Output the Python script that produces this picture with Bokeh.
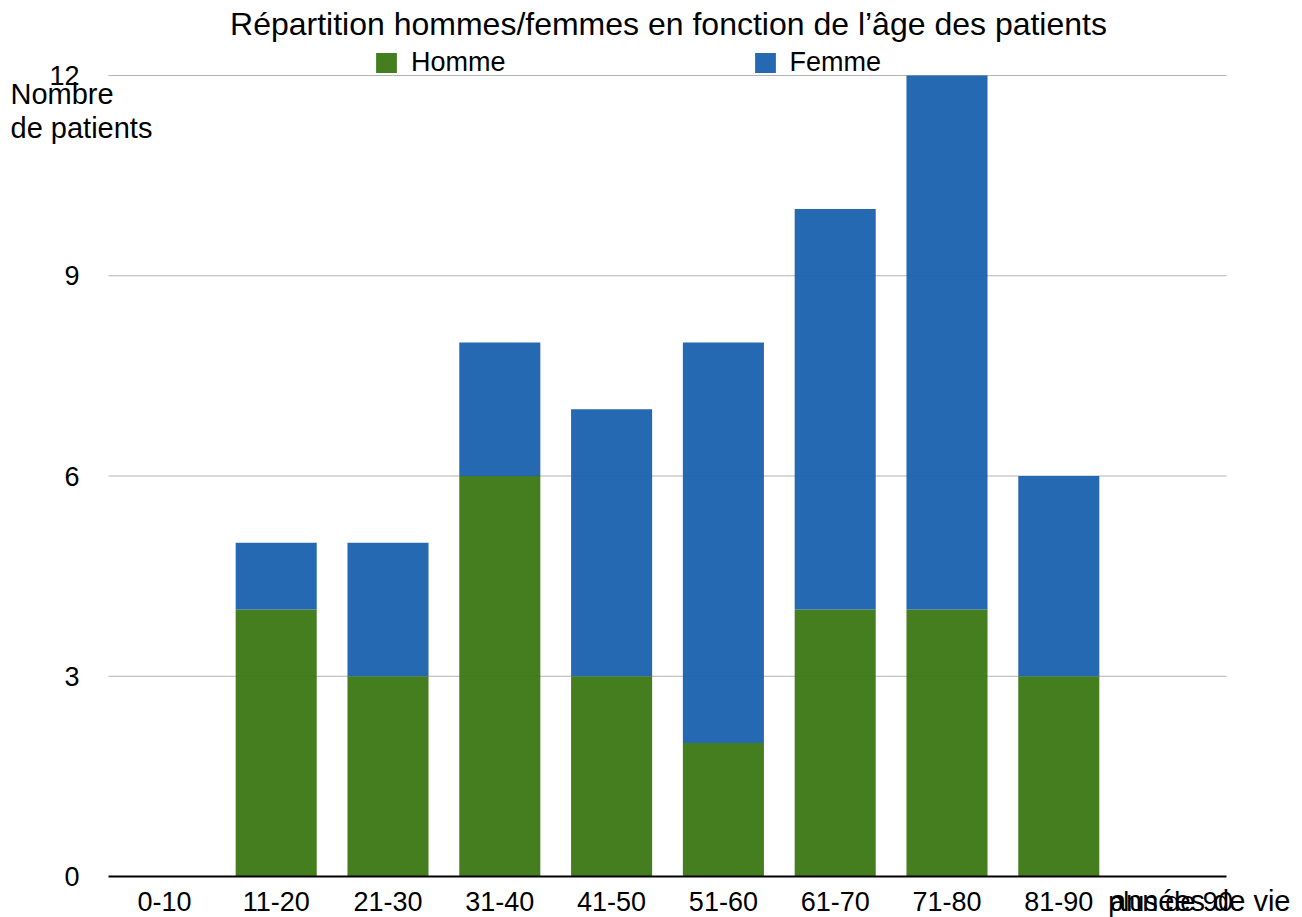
from bokeh.plotting import figure
from bokeh.models import (ColumnDataSource, Range1d, FixedTicker,
                          Label, Legend, LegendItem)
from bokeh.embed import file_html
from bokeh.resources import INLINE

# ---- data ----
categories = ["0-10", "11-20", "21-30", "31-40", "41-50", "51-60",
              "61-70", "71-80", "81-90", "plus de 90"]
homme = [0, 4, 3, 6, 3, 2, 4, 4, 3, 0]
femme = [0, 1, 2, 2, 4, 6, 6, 8, 3, 0]
y_ticks = [0, 3, 6, 9, 12]

title_text = "Répartition hommes/femmes en fonction de l’âge des patients"
y_title = ["Nombre", "de patients"]
x_title = "années de vie"

# ---- layout (pixels of the page) ----
FONT = "Liberation Sans"
GREEN = "#37740E"
BLUE = "#155EAD"
W, H = 1302, 917
PX_L, PX_R, PX_T, PX_B = 108, 1226, 75, 876

n = len(categories)
pos = list(range(n))
ymax = y_ticks[-1]
kx = n / (PX_R - PX_L)
ky = ymax / (PX_B - PX_T)


def dx(px):
    return -0.5 + (px - PX_L) * kx


def dy(py):
    return (PX_B - py) * ky


source = ColumnDataSource(dict(x=pos, Homme=homme, Femme=femme))

p = figure(width=W, height=H, x_range=Range1d(dx(0), dx(W)),
           y_range=Range1d(dy(H), dy(0)), output_backend="svg",
           toolbar_location=None, min_border=0)
p.outline_line_color = None
p.grid.visible = False

# horizontal grid lines inside the plot area
p.segment(x0=-0.5, x1=n - 0.5, y0=y_ticks[1:], y1=y_ticks[1:],
          line_color="#b4b4b4", line_width=1)

rs = p.vbar_stack(["Homme", "Femme"], x="x", width=0.725, source=source,
                  color=[GREEN, BLUE], fill_alpha=0.93, line_color=None)

# axes drawn at fixed data locations
p.yaxis.fixed_location = -0.5
p.yaxis.bounds = (0, ymax)
p.yaxis.ticker = FixedTicker(ticks=y_ticks)
p.yaxis.axis_line_color = None
p.yaxis.major_tick_line_color = None
p.yaxis.minor_tick_line_color = None
p.yaxis.major_label_standoff = 23
p.yaxis.major_label_text_font = FONT
p.yaxis.major_label_text_font_size = "27px"
p.yaxis.major_label_text_color = "black"

p.xaxis.fixed_location = 0
p.xaxis.bounds = (-0.5, n - 0.5)
p.xaxis.ticker = FixedTicker(ticks=pos)
p.xaxis.major_label_overrides = {i: c for i, c in zip(pos, categories)}
p.xaxis.axis_line_color = "black"
p.xaxis.axis_line_width = 2
p.xaxis.major_tick_line_color = None
p.xaxis.minor_tick_line_color = None
p.xaxis.major_tick_out = 0
p.xaxis.major_label_standoff = 10
p.xaxis.major_label_text_font = FONT
p.xaxis.major_label_text_font_size = "27px"
p.xaxis.major_label_text_color = "black"

# legend
legend = Legend(items=[LegendItem(label="Homme", renderers=[rs[0]]),
                       LegendItem(label="Femme", renderers=[rs[1]])],
                orientation="horizontal", location=(373, H - 78),
                glyph_width=26, glyph_height=25, label_standoff=12,
                spacing=246, padding=0, margin=0,
                border_line_color=None, background_fill_alpha=0,
                label_text_font=FONT, label_text_font_size="27px",
                label_text_color="black")
p.add_layout(legend, "center")


# texts (baseline given in page pixels)
def add_text(txt, x, base, align, size):
    p.add_layout(Label(x=dx(x), y=dy(base - 0.41 * size), text=txt,
                       text_align=align, text_baseline="alphabetic",
                       text_font=FONT, text_font_size=f"{size}px",
                       text_color="black"))


add_text(title_text, 668, 37, "center", 32)
add_text(y_title[0], 10, 105, "left", 29)
add_text(y_title[1], 10, 139, "left", 29)
add_text(x_title, 1290, 912, "right", 29)

open("out.html", "w").write(file_html(p, INLINE))
